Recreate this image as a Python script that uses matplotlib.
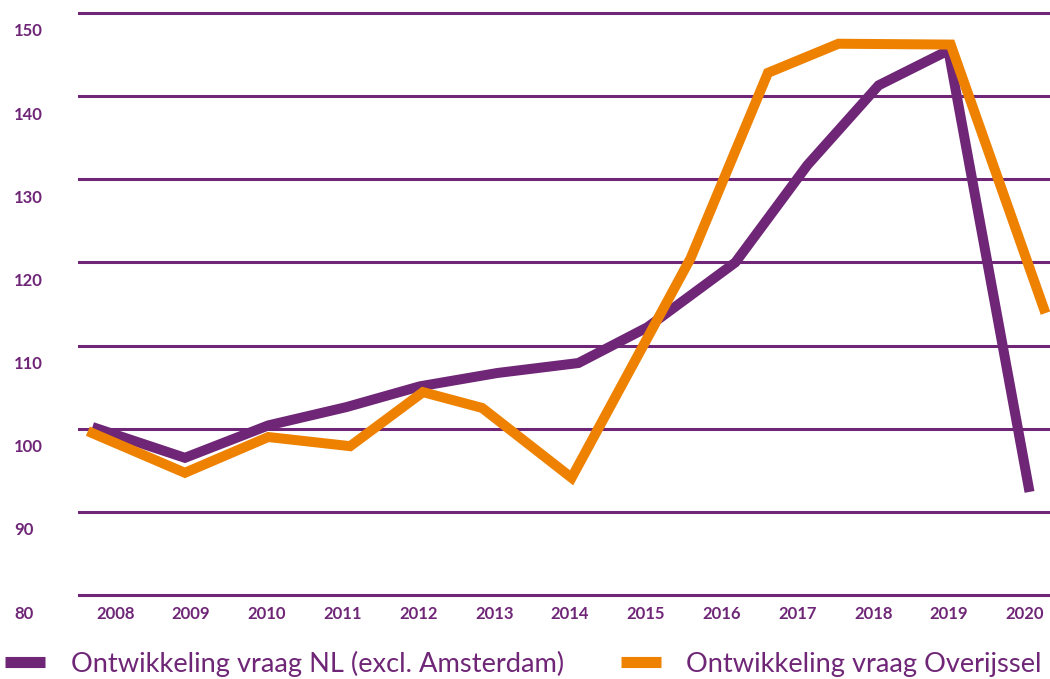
import matplotlib
matplotlib.use("Agg")
import matplotlib.pyplot as plt
from matplotlib.transforms import ScaledTranslation

# colours
purple = "#6F2677"
orange = "#EE8200"

# data (x in years)
nl_years = [2007.70, 2008.92, 2010.02, 2011.05, 2012.02, 2013.04, 2014.11,
            2015.02, 2016.18, 2017.13, 2018.07, 2018.99, 2020.06]
nl_values = [100.2, 96.5, 100.4, 102.6, 105.1, 106.7, 107.9,
             112.2, 120.0, 131.7, 141.3, 145.5, 92.4]

ov_years = [2007.64, 2008.92, 2010.02, 2011.10, 2012.06, 2012.84, 2014.02,
            2015.59, 2016.61, 2017.54, 2019.02, 2020.27]
ov_values = [99.7, 94.7, 99.0, 97.9, 104.4, 102.5, 94.1,
             120.5, 142.8, 146.3, 146.2, 113.9]

year_ticks = list(range(2008, 2021))
value_ticks = list(range(80, 151, 10))

labels = ["Ontwikkeling vraag NL (excl. Amsterdam)", "Ontwikkeling vraag Overijssel"]

plt.rcParams["font.family"] = ["Lato", "DejaVu Sans"]

fig = plt.figure(figsize=(10.5, 6.79), dpi=100)
ax = fig.add_axes([78 / 1050, 79 / 679, 972 / 1050, 600 / 679])

ax.plot(nl_years, nl_values, color=purple, lw=7.2, solid_joinstyle="miter",
        solid_capstyle="butt", label=labels[0], zorder=3)
ax.plot(ov_years, ov_values, color=orange, lw=7.2, solid_joinstyle="miter",
        solid_capstyle="butt", label=labels[1], zorder=4)

ax.set_xlim(2007.51, 2020.33)
ax.set_ylim(79.4, 151.56)

# grid
ax.set_yticks(value_ticks)
ax.yaxis.grid(True, color=purple, lw=2.2)
ax.set_axisbelow(True)
for s in ax.spines.values():
    s.set_visible(False)

# tick labels
ax.set_xticks(year_ticks)
ax.set_xticklabels([str(y) for y in year_ticks], fontsize=12, fontweight="bold", color=purple)
ax.tick_params(axis="x", length=0, pad=4)
ax.tick_params(axis="y", length=0, pad=46)
ax.set_yticklabels([str(v) for v in value_ticks], fontsize=12, fontweight="bold", color=purple)
shift = ScaledTranslation(0, -17 / 100, fig.dpi_scale_trans)
for lab in ax.get_yticklabels():
    lab.set_horizontalalignment("left")
    lab.set_transform(lab.get_transform() + shift)

# legend
leg = fig.legend(loc="lower left", bbox_to_anchor=(0.0, -0.005), ncol=2, frameon=False,
                 fontsize=19.6, handlelength=1.47, handletextpad=0.92, columnspacing=2.1,
                 borderaxespad=0, borderpad=0.2)
for t in leg.get_texts():
    t.set_color(purple)
for h in leg.legend_handles:
    h.set_linewidth(8)

fig.savefig("out.png", dpi=100)
